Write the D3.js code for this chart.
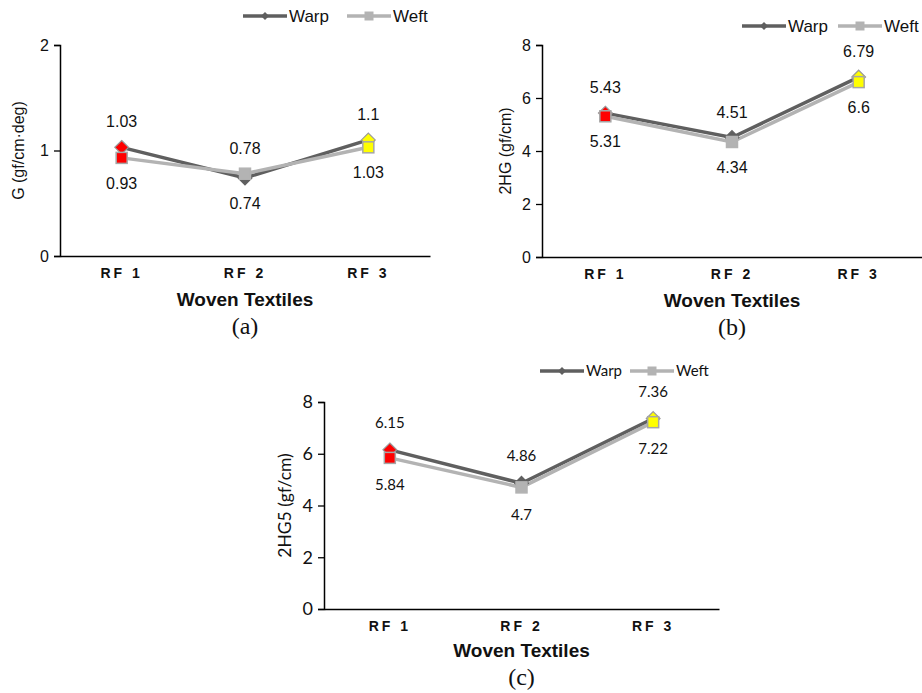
<!DOCTYPE html>
<html>
<head>
<meta charset="utf-8">
<script src="https://cdn.jsdelivr.net/npm/d3@7"></script>
<style>
  body { margin: 0; background: #fff; }
  svg { display: block; }
</style>
</head>
<body>
<svg id="chart" width="922" height="693"></svg>
<script>
// ---- data ----
const categories = ["RF 1", "RF 2", "RF 3"];
const seriesNames = ["Warp", "Weft"];
const warpG = [1.03, 0.74, 1.1];
const weftG = [0.93, 0.78, 1.03];
const warp2HG = [5.43, 4.51, 6.79];
const weft2HG = [5.31, 4.34, 6.6];
const warp2HG5 = [6.15, 4.86, 7.36];
const weft2HG5 = [5.84, 4.7, 7.22];
const ticksG = [0, 1, 2];
const ticks2HG = [0, 2, 4, 6, 8];
const ticks2HG5 = [0, 2, 4, 6, 8];
const pointFill = ["#ff0000", null, "#ffff00"];

// label placement per series and point: -1 above, +1 below
const labelSideA = { warp: [-1, 1, -1], weft: [1, -1, 1] };
const labelSideBC = { warp: [-1, -1, -1], weft: [1, 1, 1] };

const warpColor = "#5f5f5f";
const weftColor = "#b3b3b3";

const svg = d3.select("#chart");

function panel(cfg) {
  const g = svg.append("g");
  const x = d3.scaleBand().domain(categories).range([cfg.x0, cfg.x1]);
  const cx = c => x(c) + x.bandwidth() / 2;
  const y = d3.scaleLinear().domain([cfg.ticks[0], cfg.ticks[cfg.ticks.length - 1]]).range([cfg.yb, cfg.yt]);

  // y axis
  const ya = g.append("g").attr("transform", `translate(${cfg.x0},0)`)
    .call(d3.axisLeft(y).tickValues(cfg.ticks).tickSize(6).tickPadding(5).tickFormat(d3.format("d")));
  ya.select(".domain").attr("stroke", "#000").attr("stroke-width", 1.5);
  ya.selectAll(".tick line").attr("stroke", "#000").attr("stroke-width", 1.3);
  ya.selectAll(".tick text").attr("font-family", cfg.numFont).attr("font-size", cfg.tickSize).attr("fill", "#111");

  // x axis
  const xa = g.append("g").attr("transform", `translate(0,${cfg.yb})`)
    .call(d3.axisBottom(x).tickSize(0).tickPadding(14));
  xa.select(".domain").attr("stroke", "#000").attr("stroke-width", 1.5);
  xa.selectAll(".tick text").attr("font-family", "Liberation Sans, Arial, sans-serif")
    .attr("font-weight", "bold").attr("font-size", 14).attr("letter-spacing", "3px").attr("fill", "#111")
    .attr("dy", "0.6em");

  // axis titles
  g.append("text").attr("x", (cfg.x0 + cfg.x1) / 2 + cfg.titleDx).attr("y", cfg.yb + cfg.titleDy)
    .attr("text-anchor", "middle").attr("font-family", "Liberation Sans, Arial, sans-serif")
    .attr("font-weight", "bold").attr("font-size", 19).attr("fill", "#111").text("Woven Textiles");
  g.append("text").attr("transform", `translate(${cfg.ytx},${(cfg.yt + cfg.yb) / 2}) rotate(-90)`)
    .attr("text-anchor", "middle").attr("dy", "0.35em").attr("font-family", cfg.numFont)
    .attr("font-size", cfg.yTitleSize).attr("fill", "#111").text(cfg.yTitle);
  g.append("text").attr("x", (cfg.x0 + cfg.x1) / 2 + cfg.titleDx).attr("y", cfg.capY)
    .attr("text-anchor", "middle").attr("font-family", "Liberation Serif, Times New Roman, serif")
    .attr("font-size", 24).attr("fill", "#111").text(cfg.caption);

  const line = d3.line().x((d, i) => cx(categories[i])).y(d => y(d));
  g.append("path").datum(cfg.warp).attr("d", line).attr("fill", "none").attr("stroke", warpColor).attr("stroke-width", 3.5);
  g.append("path").datum(cfg.weft).attr("d", line).attr("fill", "none").attr("stroke", weftColor).attr("stroke-width", 3.5);

  // warp diamonds
  const dsym = d3.symbol().type(d3.symbolDiamond2).size(120);
  g.selectAll(".wd").data(cfg.warp).join("path")
    .attr("transform", (d, i) => `translate(${cx(categories[i])},${y(d)})`)
    .attr("d", dsym)
    .attr("fill", (d, i) => pointFill[i] || warpColor)
    .attr("stroke", (d, i) => pointFill[i] ? "#9a9a9a" : warpColor).attr("stroke-width", 1.2);
  // weft squares
  const s = 11;
  g.selectAll(".ws").data(cfg.weft).join("rect")
    .attr("x", (d, i) => cx(categories[i]) - s / 2).attr("y", d => y(d) - s / 2)
    .attr("width", s).attr("height", s)
    .attr("fill", (d, i) => pointFill[i] || weftColor)
    .attr("stroke", (d, i) => pointFill[i] ? "#a6a6a6" : weftColor).attr("stroke-width", 1.5);

  // value labels
  const lab = (vals, sides) => g.selectAll(null).data(vals).join("text")
    .attr("x", (d, i) => cx(categories[i]))
    .attr("y", (d, i) => y(d) + sides[i] * cfg.labOff)
    .attr("dy", "0.35em").attr("text-anchor", "middle")
    .attr("font-family", cfg.numFont).attr("font-size", cfg.valSize).attr("fill", "#111")
    .text(d => d);
  lab(cfg.warp, cfg.sides.warp);
  lab(cfg.weft, cfg.sides.weft);

  // legend
  const L = cfg.legend;
  const lg = g.append("g").attr("transform", `translate(${L.x},${L.y})`);
  lg.append("line").attr("x1", 0).attr("x2", 44).attr("stroke", warpColor).attr("stroke-width", 3.5);
  lg.append("path").attr("transform", "translate(22,0)").attr("d", d3.symbol().type(d3.symbolDiamond2).size(40)).attr("fill", warpColor);
  lg.append("text").attr("x", 46).attr("dy", "0.35em").attr("font-family", cfg.legFont).attr("font-size", cfg.legSize).attr("fill", "#111").text(seriesNames[0]);
  lg.append("line").attr("x1", L.gap).attr("x2", L.gap + 44).attr("stroke", weftColor).attr("stroke-width", 3.5);
  lg.append("rect").attr("x", L.gap + 22 - 4.5).attr("y", -4.5).attr("width", 9).attr("height", 9).attr("fill", weftColor);
  lg.append("text").attr("x", L.gap + 46).attr("dy", "0.35em").attr("font-family", cfg.legFont).attr("font-size", cfg.legSize).attr("fill", "#111").text(seriesNames[1]);
}

const arial = "Liberation Sans, Arial, sans-serif";
panel({ x0: 60, x1: 430, yt: 45, yb: 256, ticks: ticksG, warp: warpG, weft: weftG, sides: labelSideA,
  yTitle: "G (gf/cm·deg)", ytx: 18, caption: "(a)", capY: 334, titleDy: 50, titleDx: 0,
  numFont: arial, legFont: arial, tickSize: 16, valSize: 16, yTitleSize: 16, labOff: 25.5, legSize: 17,
  legend: { x: 243, y: 16, gap: 104 } });
panel({ x0: 542, x1: 922, yt: 45, yb: 257, ticks: ticks2HG, warp: warp2HG, weft: weft2HG, sides: labelSideBC,
  yTitle: "2HG (gf/cm)", ytx: 505, caption: "(b)", capY: 335, titleDy: 50, titleDx: 0,
  numFont: arial, legFont: arial, tickSize: 16, valSize: 16, yTitleSize: 16, labOff: 25.5, legSize: 17,
  legend: { x: 742, y: 26, gap: 96 } });
const cal = "Lato, Carlito, Calibri, sans-serif";
panel({ x0: 324, x1: 719, yt: 402, yb: 609, ticks: ticks2HG5, warp: warp2HG5, weft: weft2HG5, sides: labelSideBC,
  yTitle: "2HG5 (gf/cm)", ytx: 285, caption: "(c)", capY: 685, titleDy: 48, titleDx: 0,
  numFont: cal, legFont: cal, tickSize: 18, valSize: 15, yTitleSize: 17.5, labOff: 27, legSize: 15,
  legend: { x: 540, y: 371, gap: 90 } });
</script>
</body>
</html>
